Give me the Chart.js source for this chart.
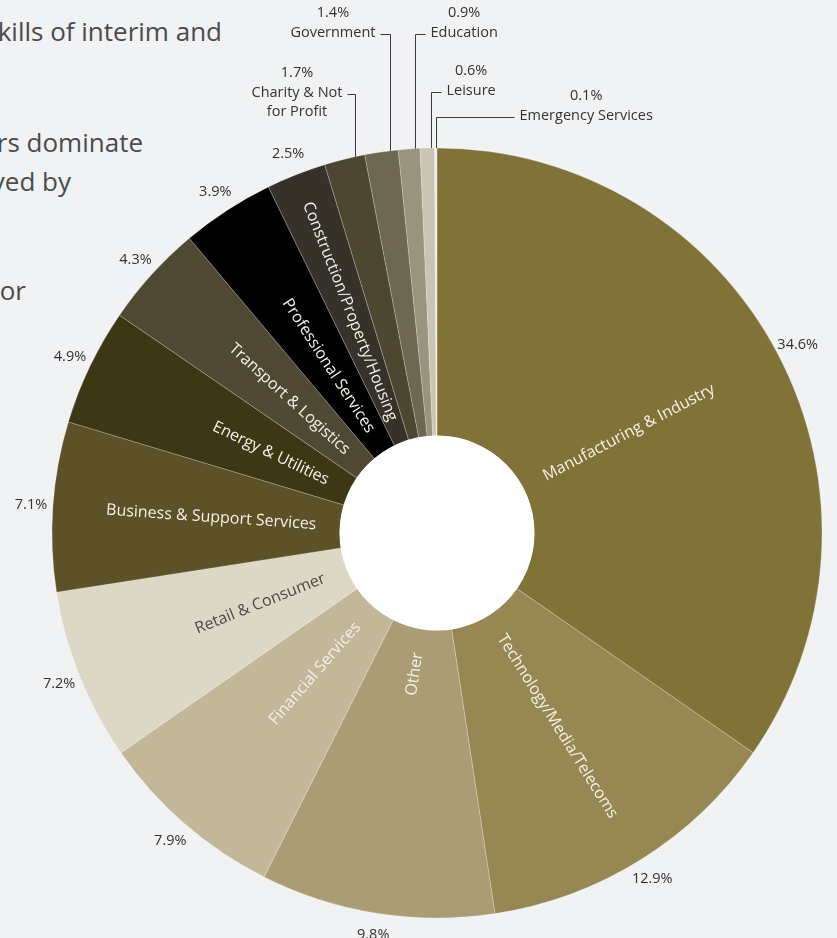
<!DOCTYPE html>
<html>
<head>
<meta charset="utf-8">
<script src="https://cdn.jsdelivr.net/npm/chart.js@4.4.1/dist/chart.umd.min.js"></script>
<style>
  html, body { margin: 0; padding: 0; background: #f1f2f4; overflow: hidden; }
  body { width: 837px; height: 938px; position: relative; font-family: 'Open Sans', sans-serif; }
  .intro { position: absolute; font-size: 26px; line-height: 26px; color: #4b4b4b; white-space: nowrap; }
  #wrap { position: absolute; left: 0; top: 0; width: 837px; height: 938px; }
</style>
</head>
<body>
<div class="intro" style="right:615px; top:18px">kills of interim and</div>
<div class="intro" style="right:694px; top:129px">rs dominate</div>
<div class="intro" style="right:766px; top:168px">ved by</div>
<div class="intro" style="right:811px; top:277px">or</div>

<div id="wrap"><canvas id="sectors" width="837" height="938"></canvas></div>

<script>
// sector split, clockwise from 12 o'clock
const sectors = [
  'Manufacturing & Industry',
  'Technology/Media/Telecoms',
  'Other',
  'Financial Services',
  'Retail & Consumer',
  'Business & Support Services',
  'Energy & Utilities',
  'Transport & Logistics',
  'Professional Services',
  'Construction/Property/Housing',
  'Charity & Not for Profit',
  'Government',
  'Education',
  'Leisure',
  'Emergency Services'
];
const shares = [34.6, 12.9, 9.8, 7.9, 7.2, 7.1, 4.9, 4.3, 3.9, 2.5, 1.7, 1.4, 0.9, 0.6, 0.1];
const sectorColours = [
  '#817238', '#978853', '#aa9d75', '#c2b899', '#ddd8c5',
  '#5d5127', '#3e3716', '#4f4832', '#000000', '#36322a',
  '#4d4631', '#6e6852', '#9a947e', '#c9c4b4', '#ececec'
];
const darkLabelSectors = ['Retail & Consumer'];

// the thin slices get a leader line and a label above the ring
const callouts = [
  { sector: 'Charity & Not for Profit', lines: ['Charity & Not', 'for Profit'], side: 'left', y: 93, stub: 8 },
  { sector: 'Government', lines: ['Government'], side: 'left', y: 33, stub: 10 },
  { sector: 'Education', lines: ['Education'], side: 'right', y: 33, stub: 10 },
  { sector: 'Leisure', lines: ['Leisure'], side: 'right', y: 91, stub: 10 },
  { sector: 'Emergency Services', lines: ['Emergency Services'], side: 'right', y: 116, stub: 78 }
];

const pct = v => v.toFixed(1) + '%';

const whiteHole = {
  id: 'whiteHole',
  afterDatasetsDraw(chart) {
    const arc = chart.getDatasetMeta(0).data[0];
    const { x, y, innerRadius } = arc.getProps(['x', 'y', 'innerRadius'], true);
    const ctx = chart.ctx;
    ctx.save();
    ctx.fillStyle = '#ffffff';
    ctx.beginPath();
    ctx.arc(x, y, innerRadius + 0.5, 0, Math.PI * 2);
    ctx.fill();
    ctx.restore();
  }
};

const sliceLabels = {
  id: 'sliceLabels',
  afterDatasetsDraw(chart) {
    const ctx = chart.ctx;
    const meta = chart.getDatasetMeta(0);
    meta.data.forEach((arc, i) => {
      const { x, y, startAngle, endAngle, innerRadius, outerRadius } =
        arc.getProps(['x', 'y', 'startAngle', 'endAngle', 'innerRadius', 'outerRadius'], true);
      const mid = (startAngle + endAngle) / 2;
      const callout = callouts.find(c => c.sector === sectors[i]);

      if (callout) {
        // leader: down from the label to the outer edge of the slice
        const a = startAngle + (endAngle - startAngle) * 0.75;
        const lx = Math.round(x + Math.cos(a) * outerRadius) + 0.5;
        const ly = y - Math.sqrt(outerRadius * outerRadius - (lx - x) * (lx - x));
        const stubY = Math.round(callout.y + 1) + 0.5;
        ctx.save();
        ctx.font = '14.5px "Open Sans"';
        const w = Math.max(...callout.lines.map(l => ctx.measureText(l).width));
        const stubEnd = callout.side === 'left' ? lx - callout.stub : lx + callout.stub;
        const cx = callout.side === 'left' ? stubEnd - 5 - w / 2 : stubEnd + 5 + w / 2;
        ctx.strokeStyle = '#3a3a3a';
        ctx.lineWidth = 1;
        ctx.beginPath();
        ctx.moveTo(stubEnd, stubY);
        ctx.lineTo(lx, stubY);
        ctx.lineTo(lx, ly);
        ctx.stroke();
        ctx.fillStyle = '#333333';
        ctx.textAlign = 'center';
        ctx.textBaseline = 'middle';
        ctx.fillText(pct(shares[i]), cx, callout.y - 20);
        callout.lines.forEach((l, k) => ctx.fillText(l, cx, callout.y + k * 19));
        ctx.restore();
        return;
      }

      // percentage outside the ring
      ctx.save();
      ctx.font = '14.5px "Open Sans"';
      ctx.fillStyle = '#333333';
      ctx.textAlign = 'center';
      ctx.textBaseline = 'middle';
      const r = outerRadius + 22;
      ctx.fillText(pct(shares[i]), x + Math.cos(mid) * r, y + Math.sin(mid) * r);
      ctx.restore();

      // sector name along the radius, starting near the hole
      ctx.save();
      ctx.translate(x, y);
      ctx.font = '16px "Open Sans"';
      ctx.fillStyle = darkLabelSectors.includes(sectors[i]) ? '#4a4a4a' : '#f4f1e8';
      ctx.textBaseline = 'middle';
      const start = innerRadius + 24;
      if (Math.cos(mid) >= 0) {
        ctx.rotate(mid);
        ctx.textAlign = 'left';
        ctx.fillText(sectors[i], start, 0);
      } else {
        ctx.rotate(mid + Math.PI);
        ctx.textAlign = 'right';
        ctx.fillText(sectors[i], -start, 0);
      }
      ctx.restore();
    });
  }
};

new Chart(document.getElementById('sectors'), {
  type: 'doughnut',
  data: {
    labels: sectors,
    datasets: [{
      data: shares,
      backgroundColor: sectorColours,
      borderColor: 'rgba(255,255,255,0.22)',
      borderWidth: 1
    }]
  },
  options: {
    responsive: false,
    animation: false,
    radius: 385,
    cutout: '25.2%',
    layout: { padding: { left: 37, right: 0, top: 133, bottom: 5 } },
    plugins: {
      legend: { display: false },
      tooltip: { enabled: false }
    }
  },
  plugins: [whiteHole, sliceLabels]
});
</script>
</body>
</html>
